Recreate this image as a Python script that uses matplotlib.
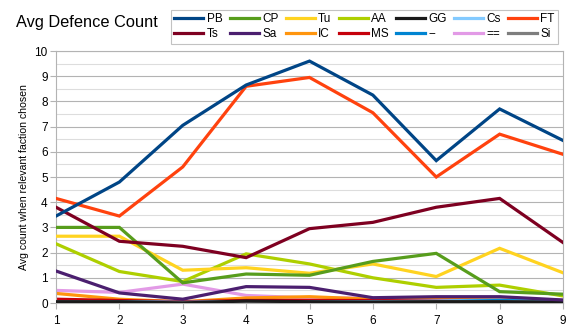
import matplotlib
matplotlib.use("Agg")
import matplotlib.pyplot as plt
from matplotlib.ticker import MultipleLocator

plt.rcParams['font.family'] = ['Liberation Sans', 'DejaVu Sans']

x = [1, 2, 3, 4, 5, 6, 7, 8, 9]
names = ["PB", "CP", "Tu", "AA", "GG", "Cs", "FT", "Ts", "Sa", "IC", "MS", "--", "==", "Si"]
colors = ["#004586", "#579d1c", "#ffd320", "#aecf00", "#1a1a1a", "#83caff", "#ff420e",
          "#7e0021", "#4b1f6f", "#ff950e", "#c5000b", "#0084d1", "#e29ae6", "#7e7e7e"]

PB = [3.45, 4.8, 7.05, 8.65, 9.6, 8.25, 5.65, 7.7, 6.45]
CP = [3.0, 3.0, 0.8, 1.15, 1.1, 1.65, 1.97, 0.45, 0.35]
Tu = [2.65, 2.65, 1.3, 1.4, 1.18, 1.55, 1.05, 2.17, 1.2]
AA = [2.35, 1.25, 0.85, 1.95, 1.55, 1.0, 0.62, 0.71, 0.28]
GG = [0.05, 0.05, 0.0, 0.08, 0.05, 0.03, 0.05, 0.05, 0.03]
Cs = [0.05, 0.05, 0.02, 0.05, 0.05, 0.05, 0.08, 0.12, 0.05]
FT = [4.15, 3.45, 5.4, 8.6, 8.95, 7.55, 5.0, 6.7, 5.9]
Ts = [3.8, 2.45, 2.25, 1.8, 2.95, 3.2, 3.8, 4.15, 2.4]
Sa = [1.27, 0.4, 0.15, 0.65, 0.62, 0.21, 0.25, 0.25, 0.12]
IC = [0.38, 0.15, 0.05, 0.2, 0.25, 0.15, 0.2, 0.15, 0.1]
MS = [0.15, 0.1, 0.05, 0.1, 0.1, 0.1, 0.1, 0.1, 0.05]
DASH = [0.05, 0.05, 0.02, 0.05, 0.05, 0.05, 0.05, 0.1, 0.05]
EQ = [0.5, 0.42, 0.75, 0.3, 0.2, 0.2, 0.2, 0.2, 0.1]
Si = [0.05, 0.04, 0.02, 0.05, 0.04, 0.04, 0.05, 0.05, 0.03]

series = [PB, CP, Tu, AA, GG, Cs, FT, Ts, Sa, IC, MS, DASH, EQ, Si]
z_order = [EQ, IC, MS, Cs, DASH, Si, GG, Sa, AA, Tu, CP, Ts, FT, PB]

fig = plt.figure(figsize=(5.75, 3.36), dpi=100)
ax = fig.add_axes([56/575, 1-303/336, (563-56)/575, (303-51)/336])

handles = {}
for i, (name, col, vals) in enumerate(zip(names, colors, series)):
    z = 2 + [id(v) for v in z_order].index(id(vals)) * 0.1
    h, = ax.plot(x, vals, color=col, lw=2.3, label=name, zorder=z, solid_joinstyle='miter')
    handles[name] = h

ax.set_xlim(1, 9)
ax.set_ylim(0, 10)
ax.set_xticks(x)
ax.yaxis.set_major_locator(MultipleLocator(1))
ax.yaxis.set_minor_locator(MultipleLocator(0.5))
ax.grid(which='major', axis='y', color='#b3b3b3', lw=0.8)
ax.grid(which='minor', axis='y', color='#dddddd', lw=0.8)
ax.tick_params(which='minor', length=0)
ax.tick_params(which='major', length=4, color='#b3b3b3', labelsize=8.5, pad=2)
ax.tick_params(axis='x', pad=5)
for s in ax.spines.values():
    s.set_color('#b3b3b3')
    s.set_linewidth(0.8)
ax.set_axisbelow(True)
ax.set_ylabel("Avg count when relevant faction chosen", fontsize=7.6, labelpad=4)

fig.text(16/575, 1-23/336, "Avg Defence Count", fontsize=11.8, va='center', ha='left')

row1 = names[:7]
row2 = names[7:]
order = []
for a, b in zip(row1, row2):
    order += [a, b]
leg = fig.legend([handles[n] for n in order], order, ncol=7, loc='upper left',
                 bbox_to_anchor=(165/575, 1-4/336), fontsize=8.5, frameon=True,
                 fancybox=False, edgecolor='#b3b3b3', handlelength=2.45,
                 handletextpad=0.3, columnspacing=0.6, labelspacing=0.25,
                 borderpad=0.3)
leg.get_frame().set_linewidth(0.8)

fig.savefig("out.png", dpi=100)
